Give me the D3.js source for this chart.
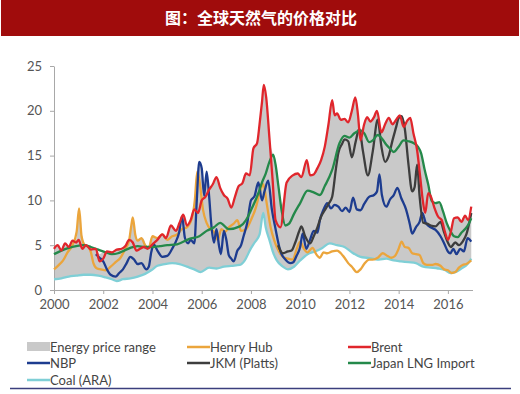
<!DOCTYPE html>
<html>
<head>
<meta charset="utf-8">
<script src="https://cdnjs.cloudflare.com/ajax/libs/d3/7.8.5/d3.min.js"></script>
<style>
  html, body { margin: 0; padding: 0; background: #fff; }
  svg { display: block; }
  .tick text { font-family: Lato, "DejaVu Sans", sans-serif; font-size: 13px; fill: #555; }
  .legend text { font-family: Lato, "DejaVu Sans", sans-serif; font-size: 13px; fill: #444; }
</style>
</head>
<body>
<svg id="chart" width="520" height="394"></svg>
<script>
"use strict";

var titleText = "图：全球天然气的价格对比";
var xTicks = [2000, 2002, 2004, 2006, 2008, 2010, 2012, 2014, 2016];
var yTicks = [0, 5, 10, 15, 20, 25];

// [year, $/MMBtu]
var brent = [
	[2000.0,4.6],[2000.15,5.0],[2000.3,4.4],[2000.45,5.2],[2000.6,4.8],[2000.75,5.5],[2000.9,5.3],[2001.0,5.6],
	[2001.15,4.6],[2001.3,5.0],[2001.5,4.5],[2001.7,4.6],[2001.85,3.2],[2002.0,3.5],[2002.15,4.3],[2002.35,4.2],
	[2002.55,4.5],[2002.75,4.6],[2002.9,4.9],[2003.05,5.6],[2003.2,5.3],[2003.35,4.4],[2003.5,4.6],[2003.65,4.8],
	[2003.8,4.6],[2004.0,5.1],[2004.2,5.6],[2004.4,6.2],[2004.55,5.8],[2004.75,7.2],[2004.95,6.6],[2005.1,7.5],
	[2005.25,8.4],[2005.4,7.2],[2005.55,7.8],[2005.7,9.0],[2005.85,8.6],[2006.0,10.0],[2006.15,10.4],[2006.3,11.2],
	[2006.45,11.8],[2006.6,12.6],[2006.75,11.4],[2006.9,10.6],[2007.05,10.2],[2007.2,9.2],[2007.35,10.4],[2007.5,11.6],
	[2007.65,11.9],[2007.8,13.0],[2007.95,12.8],[2008.1,15.8],[2008.25,16.4],[2008.35,18.5],[2008.45,21.0],[2008.52,22.9],
	[2008.62,21.5],[2008.75,17.0],[2008.88,12.3],[2009.0,7.8],[2009.2,7.0],[2009.45,12.0],[2009.7,12.8],[2009.9,13.0],
	[2010.05,12.6],[2010.27,14.5],[2010.4,12.8],[2010.55,12.9],[2010.7,13.6],[2010.85,14.5],[2011.0,16.0],[2011.15,18.5],
	[2011.3,21.2],[2011.4,19.5],[2011.5,19.7],[2011.65,19.0],[2011.8,19.1],[2011.95,18.7],[2012.1,20.0],[2012.24,21.5],
	[2012.35,19.5],[2012.45,16.7],[2012.6,18.5],[2012.72,19.3],[2012.85,18.8],[2013.0,19.3],[2013.12,20.0],[2013.3,17.6],
	[2013.45,18.5],[2013.6,19.2],[2013.75,18.5],[2013.9,19.0],[2014.05,19.5],[2014.2,18.2],[2014.35,18.9],[2014.47,19.2],
	[2014.6,17.5],[2014.75,15.6],[2014.88,12.5],[2014.98,10.0],[2015.08,8.6],[2015.2,10.8],[2015.3,10.5],[2015.45,9.2],
	[2015.6,8.2],[2015.75,7.8],[2015.88,6.5],[2016.0,5.6],[2016.12,6.5],[2016.25,8.0],[2016.4,8.1],[2016.55,7.6],
	[2016.7,8.3],[2016.82,7.8],[2016.95,9.3]
];

var henryHub = [
	[2000.0,2.3],[2000.2,2.8],[2000.37,3.3],[2000.55,4.2],[2000.75,5.0],[2000.92,6.5],[2001.02,9.1],[2001.12,6.0],
	[2001.25,5.0],[2001.4,4.8],[2001.5,4.2],[2001.6,3.0],[2001.75,2.4],[2001.9,2.3],[2002.1,2.2],[2002.3,2.6],
	[2002.5,3.1],[2002.7,3.6],[2002.9,4.6],[2003.05,5.5],[2003.13,7.0],[2003.2,8.1],[2003.3,6.2],[2003.4,5.5],
	[2003.55,5.8],[2003.7,5.0],[2003.85,4.7],[2004.0,6.0],[2004.2,5.8],[2004.4,6.2],[2004.6,5.6],[2004.8,6.0],
	[2005.0,6.2],[2005.2,6.8],[2005.4,7.0],[2005.6,8.0],[2005.72,10.0],[2005.82,13.2],[2005.92,12.0],[2006.05,9.0],
	[2006.2,7.5],[2006.35,6.8],[2006.5,6.5],[2006.65,5.6],[2006.8,6.8],[2006.95,6.5],[2007.1,7.0],[2007.3,7.4],
	[2007.45,7.8],[2007.6,6.6],[2007.8,6.8],[2008.0,7.8],[2008.2,9.2],[2008.35,10.8],[2008.5,11.8],[2008.65,9.5],
	[2008.8,7.0],[2008.95,5.5],[2009.1,4.5],[2009.3,3.7],[2009.5,3.5],[2009.7,3.4],[2009.85,4.5],[2010.0,5.4],
	[2010.15,4.6],[2010.3,4.2],[2010.5,4.7],[2010.65,4.0],[2010.8,3.6],[2010.95,4.2],[2011.1,4.1],[2011.3,4.3],
	[2011.5,4.4],[2011.65,4.1],[2011.8,3.6],[2011.95,3.0],[2012.1,2.6],[2012.3,2.0],[2012.45,2.3],[2012.6,2.9],
	[2012.8,3.4],[2012.95,3.4],[2013.15,3.6],[2013.35,4.1],[2013.55,3.8],[2013.7,3.6],[2013.85,3.8],[2014.0,4.6],
	[2014.12,5.4],[2014.25,4.8],[2014.4,4.7],[2014.55,4.1],[2014.7,4.0],[2014.85,3.9],[2015.0,3.0],[2015.15,2.8],
	[2015.35,2.8],[2015.5,2.9],[2015.7,2.7],[2015.85,2.3],[2016.0,2.2],[2016.15,1.9],[2016.3,2.0],[2016.45,2.5],
	[2016.6,2.8],[2016.75,2.9],[2016.95,3.3]
];

var nbp = [
	[2001.7,4.0],[2001.85,3.6],[2002.0,3.2],[2002.15,2.3],[2002.3,1.7],[2002.5,1.5],[2002.65,1.9],[2002.8,2.3],
	[2002.95,3.0],[2003.1,3.7],[2003.25,3.4],[2003.4,2.9],[2003.55,3.0],[2003.75,2.3],[2003.85,2.6],[2003.95,4.2],
	[2004.05,5.1],[2004.2,4.4],[2004.4,3.7],[2004.6,3.8],[2004.8,4.6],[2004.95,5.4],[2005.08,6.4],[2005.2,8.2],
	[2005.32,5.8],[2005.45,5.2],[2005.55,5.6],[2005.7,5.2],[2005.8,10.0],[2005.9,14.3],[2006.0,13.6],[2006.1,10.5],
	[2006.2,13.2],[2006.3,10.5],[2006.4,7.0],[2006.5,5.3],[2006.6,6.8],[2006.7,5.0],[2006.78,4.0],[2006.9,6.6],
	[2007.0,5.6],[2007.1,3.9],[2007.2,3.5],[2007.3,3.2],[2007.45,4.4],[2007.6,5.0],[2007.7,6.0],[2007.85,7.5],
	[2008.0,10.0],[2008.15,10.5],[2008.3,12.0],[2008.45,10.0],[2008.55,11.0],[2008.7,12.2],[2008.85,9.0],[2009.0,6.8],
	[2009.2,4.3],[2009.4,3.4],[2009.6,3.0],[2009.72,3.1],[2009.85,3.8],[2010.0,4.8],[2010.1,6.3],[2010.25,4.6],
	[2010.4,5.6],[2010.55,6.6],[2010.7,6.4],[2010.8,7.8],[2010.95,9.0],[2011.1,9.7],[2011.25,9.1],[2011.4,9.5],
	[2011.55,9.3],[2011.7,8.8],[2011.85,9.2],[2012.0,8.7],[2012.15,10.3],[2012.3,9.0],[2012.45,8.9],[2012.6,9.6],
	[2012.8,10.4],[2013.0,10.6],[2013.12,11.0],[2013.22,12.9],[2013.32,10.6],[2013.5,9.3],[2013.65,10.1],[2013.8,10.6],
	[2013.95,11.4],[2014.1,10.3],[2014.3,9.0],[2014.45,7.4],[2014.55,6.3],[2014.7,7.0],[2014.85,7.6],[2014.96,8.6],
	[2015.1,7.5],[2015.3,7.0],[2015.5,6.7],[2015.7,6.0],[2015.85,5.2],[2016.0,4.3],[2016.1,4.1],[2016.22,4.6],
	[2016.35,4.0],[2016.5,4.6],[2016.65,4.3],[2016.8,5.8],[2016.95,5.4]
];

var jkm = [
	[2009.1,5.0],[2009.3,4.1],[2009.5,4.3],[2009.65,4.4],[2009.8,5.3],[2009.95,6.5],[2010.05,7.1],[2010.2,6.0],
	[2010.4,5.2],[2010.55,6.0],[2010.7,7.0],[2010.85,8.2],[2011.0,8.9],[2011.15,9.6],[2011.3,10.4],[2011.45,13.5],
	[2011.55,15.3],[2011.7,16.3],[2011.8,16.8],[2011.95,16.6],[2012.1,14.8],[2012.25,16.5],[2012.4,18.0],[2012.55,15.5],
	[2012.75,12.8],[2012.95,15.5],[2013.15,19.0],[2013.3,16.0],[2013.45,14.3],[2013.6,15.0],[2013.75,16.7],[2013.9,18.2],
	[2014.0,19.2],[2014.12,19.4],[2014.25,18.0],[2014.4,14.0],[2014.55,11.0],[2014.65,11.5],[2014.75,14.0],[2014.85,10.5],
	[2015.0,7.5],[2015.15,7.4],[2015.3,7.2],[2015.5,7.1],[2015.7,7.6],[2015.85,6.4],[2016.0,5.3],[2016.12,4.8],
	[2016.3,5.3],[2016.45,5.0],[2016.6,5.4],[2016.75,6.2],[2016.95,8.6]
];

var japanLng = [
	[2000.0,4.0],[2000.3,4.4],[2000.6,4.7],[2000.9,4.9],[2001.2,5.0],[2001.5,4.8],[2001.8,4.5],[2002.1,4.2],
	[2002.35,4.0],[2002.6,4.1],[2002.85,4.4],[2003.1,4.7],[2003.4,4.9],[2003.7,4.8],[2004.0,4.8],[2004.3,4.9],
	[2004.6,5.0],[2005.0,5.1],[2005.5,5.7],[2005.9,6.0],[2006.2,6.6],[2006.5,7.0],[2006.75,7.5],[2007.1,6.8],
	[2007.55,7.1],[2007.8,7.8],[2008.0,8.9],[2008.3,10.8],[2008.45,12.0],[2008.6,13.0],[2008.75,14.3],[2008.9,15.1],
	[2009.0,14.0],[2009.12,11.5],[2009.25,8.8],[2009.4,7.2],[2009.55,7.4],[2009.75,8.5],[2010.0,9.7],[2010.3,11.1],
	[2010.55,10.9],[2010.8,10.6],[2011.0,11.6],[2011.3,13.4],[2011.6,16.4],[2011.8,17.2],[2012.0,17.0],[2012.2,17.5],
	[2012.45,17.8],[2012.6,17.5],[2012.8,16.5],[2012.95,16.7],[2013.15,17.3],[2013.35,16.8],[2013.5,16.2],[2013.65,15.8],
	[2013.8,15.4],[2014.0,16.0],[2014.2,16.7],[2014.4,16.6],[2014.6,16.4],[2014.78,16.0],[2014.92,15.2],[2015.05,13.5],
	[2015.2,11.8],[2015.35,9.9],[2015.5,9.7],[2015.65,9.8],[2015.8,8.8],[2015.95,7.5],[2016.1,6.6],[2016.25,6.0],
	[2016.4,5.9],[2016.55,6.4],[2016.7,6.8],[2016.85,7.4],[2016.95,8.0]
];

var coal = [
	[2000.0,1.2],[2000.3,1.3],[2000.6,1.5],[2000.9,1.6],[2001.2,1.7],[2001.5,1.7],[2001.8,1.6],[2002.1,1.4],
	[2002.35,1.2],[2002.55,1.0],[2002.8,1.2],[2003.1,1.3],[2003.4,1.5],[2003.7,1.8],[2003.95,2.2],[2004.2,2.7],
	[2004.5,2.9],[2004.8,3.0],[2005.1,2.9],[2005.4,2.6],[2005.7,2.3],[2005.95,2.0],[2006.3,2.5],[2006.6,2.4],
	[2006.9,2.6],[2007.2,2.7],[2007.55,2.8],[2007.75,3.3],[2007.97,4.5],[2008.15,5.3],[2008.35,6.2],[2008.5,8.6],
	[2008.6,7.0],[2008.75,5.6],[2008.9,4.2],[2009.05,3.3],[2009.3,2.6],[2009.5,2.3],[2009.75,2.6],[2010.0,3.3],
	[2010.3,4.0],[2010.6,4.3],[2010.9,4.7],[2011.2,5.2],[2011.5,5.0],[2011.8,4.8],[2012.1,4.2],[2012.45,3.7],
	[2012.7,3.6],[2012.95,3.5],[2013.2,3.4],[2013.5,3.5],[2013.8,3.3],[2014.1,3.2],[2014.4,3.1],[2014.7,3.0],
	[2015.0,2.6],[2015.3,2.5],[2015.6,2.4],[2015.9,2.2],[2016.1,1.9],[2016.3,2.0],[2016.55,2.4],[2016.8,2.9],
	[2016.95,3.5]
];

// upper edge of the grey "energy price range" band (lower edge follows coal)
var rangeTop = [
	[2000.0,4.6],[2000.15,5.0],[2000.3,4.6],[2000.45,5.2],[2000.6,4.9],[2000.75,5.5],[2000.9,5.6],[2000.96,7.2],
	[2001.02,9.1],[2001.12,6.5],[2001.25,5.2],[2001.4,5.0],[2001.55,4.6],[2001.7,4.6],[2001.85,4.0],[2002.0,4.2],
	[2002.15,4.3],[2002.35,4.2],[2002.55,4.5],[2002.75,4.6],[2002.9,4.9],[2003.05,5.6],[2003.13,7.0],[2003.2,8.1],
	[2003.3,6.2],[2003.45,5.6],[2003.6,5.8],[2003.8,4.8],[2004.0,6.0],[2004.2,5.8],[2004.4,6.2],[2004.55,5.8],
	[2004.75,7.2],[2004.95,6.6],[2005.1,7.5],[2005.25,8.4],[2005.4,7.2],[2005.55,7.8],[2005.7,10.0],[2005.82,13.2],
	[2005.9,14.3],[2006.0,13.6],[2006.1,11.0],[2006.2,13.2],[2006.3,11.2],[2006.45,11.8],[2006.6,12.6],[2006.75,11.4],
	[2006.9,10.6],[2007.05,10.2],[2007.2,9.2],[2007.35,10.4],[2007.5,11.6],[2007.65,11.9],[2007.8,13.0],[2007.95,12.8],
	[2008.1,15.8],[2008.25,16.4],[2008.35,18.5],[2008.45,21.0],[2008.52,22.9],[2008.62,21.5],[2008.75,17.0],[2008.9,15.1],
	[2009.0,14.0],[2009.12,11.5],[2009.25,9.5],[2009.35,10.5],[2009.45,12.0],[2009.7,12.8],[2009.9,13.0],[2010.05,12.6],
	[2010.27,14.5],[2010.4,12.8],[2010.55,12.9],[2010.7,13.6],[2010.85,14.5],[2011.0,16.0],[2011.15,18.5],[2011.3,21.2],
	[2011.4,19.5],[2011.5,19.7],[2011.65,19.0],[2011.8,19.1],[2011.95,18.7],[2012.1,20.0],[2012.24,21.5],[2012.35,19.5],
	[2012.45,17.8],[2012.6,18.5],[2012.72,19.3],[2012.85,18.8],[2013.0,19.3],[2013.12,20.0],[2013.3,17.6],[2013.45,18.5],
	[2013.6,19.2],[2013.75,18.5],[2013.9,19.0],[2014.05,19.5],[2014.15,19.4],[2014.3,18.6],[2014.47,19.2],[2014.6,17.5],
	[2014.75,16.0],[2014.92,15.2],[2015.05,13.5],[2015.2,11.8],[2015.3,10.8],[2015.45,9.8],[2015.65,9.8],[2015.8,8.8],
	[2015.95,7.5],[2016.1,6.8],[2016.25,8.0],[2016.4,8.1],[2016.55,7.6],[2016.7,8.3],[2016.82,7.8],[2016.95,9.3]
];

var seriesList = [
	{ name: "Coal (ARA)", data: coal, color: "#7fcfd6" },
	{ name: "Henry Hub", data: henryHub, color: "#eba53c" },
	{ name: "NBP", data: nbp, color: "#1d3c8f" },
	{ name: "JKM (Platts)", data: jkm, color: "#3d3d3d" },
	{ name: "Japan LNG Import", data: japanLng, color: "#24894a" },
	{ name: "Brent", data: brent, color: "#e0262c" }
];

var legendItems = [
	{ name: "Energy price range", color: "#c9c9c9", band: true },
	{ name: "Henry Hub", color: "#eba53c" },
	{ name: "Brent", color: "#e0262c" },
	{ name: "NBP", color: "#1d3c8f" },
	{ name: "JKM (Platts)", color: "#3d3d3d" },
	{ name: "Japan LNG Import", color: "#24894a" },
	{ name: "Coal (ARA)", color: "#7fcfd6" }
];

var svg = d3.select("#chart");

// title bar
svg.append("rect")
	.attr("x", 1).attr("y", 0)
	.attr("width", 518).attr("height", 36)
	.attr("fill", "#a00c0c");

svg.append("text")
	.attr("x", 261).attr("y", 24)
	.attr("text-anchor", "middle")
	.attr("fill", "#fff")
	.attr("font-family", "'Noto Sans CJK SC', sans-serif")
	.attr("font-weight", "bold")
	.attr("font-size", "16px")
	.text(titleText);

var x = d3.scaleLinear().domain([2000, 2017]).range([54, 472.5]);
var y = d3.scaleLinear().domain([0, 25]).range([290, 66]);

var line = d3.line()
	.x(function (d) { return x(d[0]); })
	.y(function (d) { return y(d[1]); })
	.curve(d3.curveMonotoneX);

// grey band: top edge forward, coal line back
svg.append("path")
	.attr("d", line(rangeTop) + "L" + line(coal.slice().reverse()).slice(1) + "Z")
	.attr("fill", "#c9c9c9");

// axes
var xAxis = d3.axisBottom(x)
	.tickValues(xTicks)
	.tickFormat(d3.format("d"))
	.tickSize(4)
	.tickSizeOuter(0)
	.tickPadding(6);

var yAxis = d3.axisLeft(y)
	.tickValues(yTicks)
	.tickSize(4)
	.tickSizeOuter(0)
	.tickPadding(8);

var gx = svg.append("g").attr("transform", "translate(0,290)").call(xAxis);
var gy = svg.append("g").attr("transform", "translate(54,0)").call(yAxis);
[gx, gy].forEach(function (g) {
	g.select(".domain").attr("stroke", "#a8a8a8");
	g.selectAll(".tick line").attr("stroke", "#a8a8a8");
});

// series lines
svg.selectAll(".series")
	.data(seriesList)
	.enter().append("path")
	.attr("class", "series")
	.attr("d", function (d) { return line(d.data); })
	.attr("fill", "none")
	.attr("stroke", function (d) { return d.color; })
	.attr("stroke-width", 2.3)
	.attr("stroke-linejoin", "round");

// legend
var colX = [27, 187, 348];
var rowY = [347, 363, 380];

var leg = svg.append("g").attr("class", "legend")
	.selectAll("g")
	.data(legendItems)
	.enter().append("g")
	.attr("transform", function (d, i) {
		return "translate(" + colX[i % 3] + "," + rowY[Math.floor(i / 3)] + ")";
	});

leg.each(function (d) {
	var g = d3.select(this);
	if (d.band) {
		g.append("rect").attr("x", 0).attr("y", -5).attr("width", 23).attr("height", 9).attr("fill", d.color);
	} else {
		g.append("line").attr("x1", 0).attr("x2", 23).attr("y1", 0).attr("y2", 0)
			.attr("stroke", d.color).attr("stroke-width", 2.5);
	}
	g.append("text").attr("x", 23).attr("y", 4.5).text(d.name);
});

// bottom rule
svg.append("line")
	.attr("x1", 10).attr("x2", 511)
	.attr("y1", 388.5).attr("y2", 388.5)
	.attr("stroke", "#3b3f7d")
	.attr("stroke-width", 1.5);
</script>
</body>
</html>
